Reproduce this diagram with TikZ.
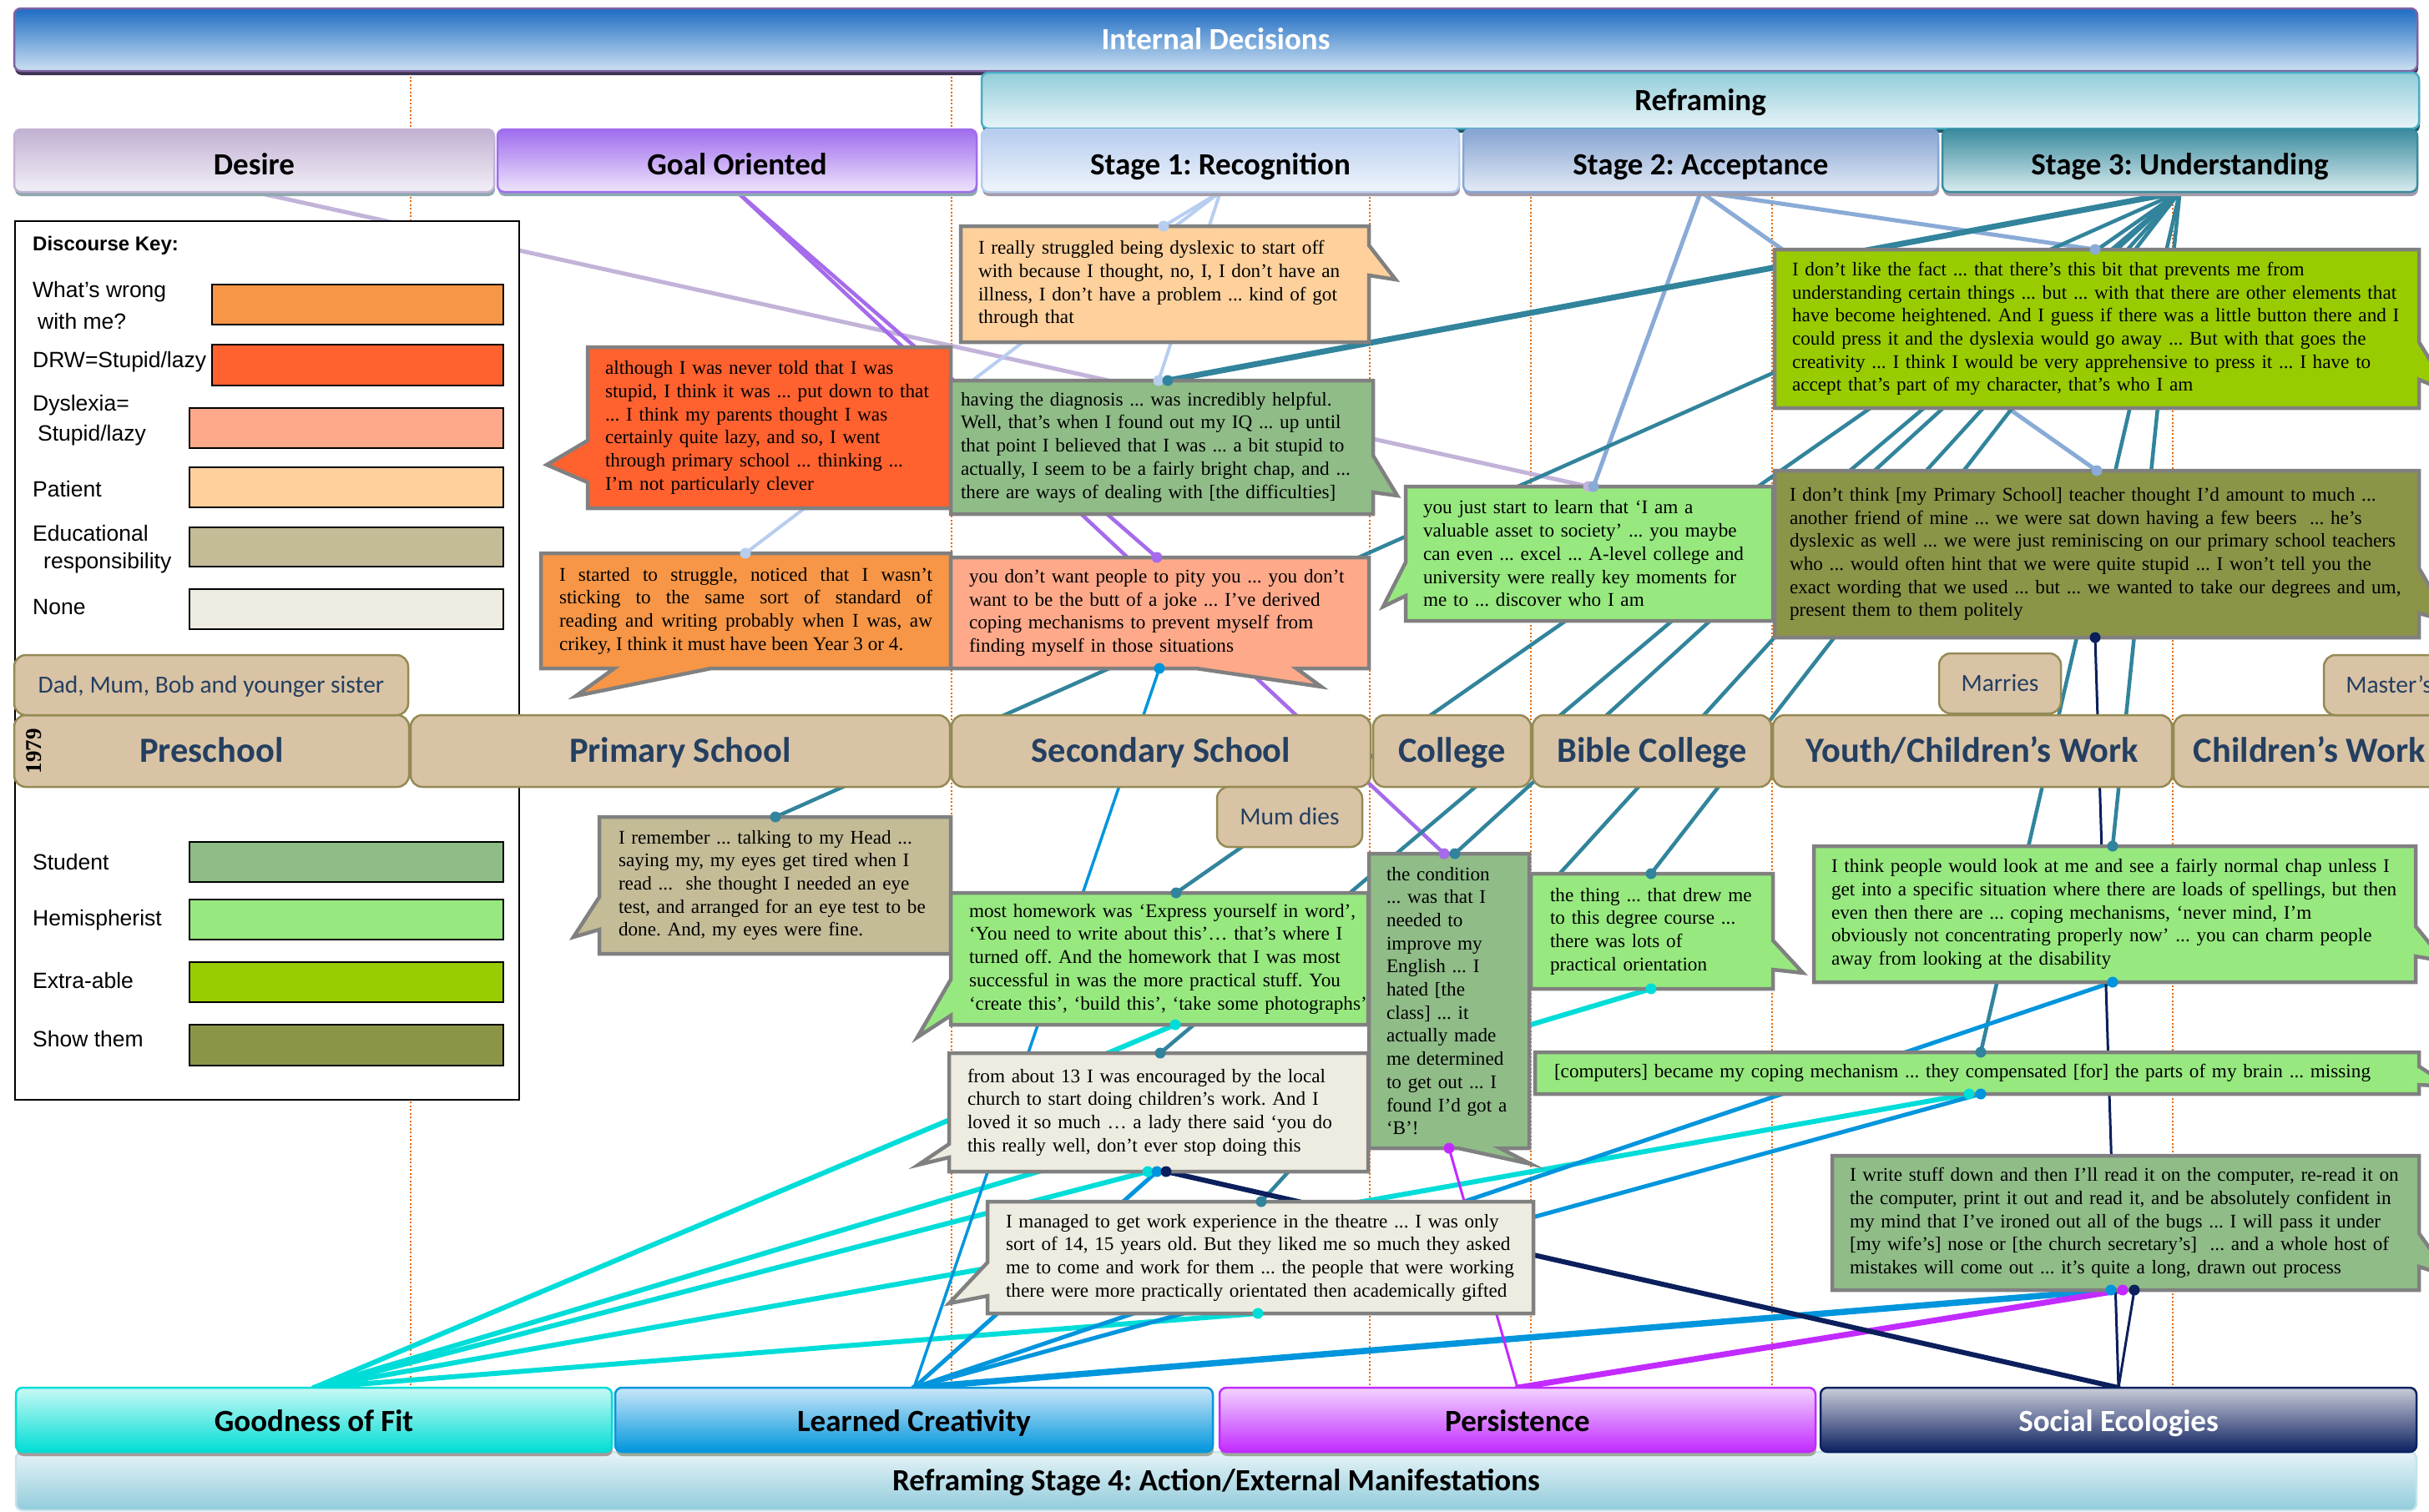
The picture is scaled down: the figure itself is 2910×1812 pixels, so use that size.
\documentclass[tikz,border=0pt]{standalone}
\usepackage{fontspec}
\usetikzlibrary{shadows}
\newfontfamily\headfont{Carlito}
\newfontfamily\quotefont{Liberation Serif}
\newfontfamily\keyfont{Liberation Sans}

% discourse colours
\definecolor{cWrong}{HTML}{F79646}
\definecolor{cDRW}{HTML}{FF612F}
\definecolor{cDys}{HTML}{FFA98B}
\definecolor{cPat}{HTML}{FDD09C}
\definecolor{cEdu}{HTML}{C4BC97}
\definecolor{cNone}{HTML}{EEECE1}
\definecolor{cStu}{HTML}{90BC88}
\definecolor{cHem}{HTML}{97E97F}
\definecolor{cExtra}{HTML}{99CC00}
\definecolor{cShow}{HTML}{8C9448}
\definecolor{cgrey}{HTML}{808080}
% timeline
\definecolor{tan}{HTML}{D9C3A5}
\definecolor{olive}{HTML}{948A54}
\definecolor{eratext}{HTML}{243F60}
\definecolor{gorange}{HTML}{E46C0A}
% connectors
\definecolor{wLav}{HTML}{C3B3D9}
\definecolor{wPur}{HTML}{A56BEB}
\definecolor{wSt1}{HTML}{B7CEEF}
\definecolor{wSt2}{HTML}{8AABD6}
\definecolor{wSt3}{HTML}{31849B}
\definecolor{wCyan}{HTML}{00DDD8}
\definecolor{wBlue}{HTML}{0095DC}
\definecolor{wMag}{HTML}{C22BFF}
\definecolor{wNavy}{HTML}{0B1F5C}
% banners
\definecolor{inTop}{HTML}{1D6CC3}
\definecolor{inBot}{HTML}{CCE0F1}
\definecolor{inEdge}{HTML}{7F63A3}
\definecolor{inSh}{HTML}{3E3253}
\definecolor{rfTop}{HTML}{92CDDA}
\definecolor{rfBot}{HTML}{E8F4F8}
\definecolor{rfEdge}{HTML}{4BACC6}
\definecolor{rfSh}{HTML}{215967}
\definecolor{deTop}{HTML}{C1B1D3}
\definecolor{deBot}{HTML}{F3F0F7}
\definecolor{deEdge}{HTML}{C3B3D5}
\definecolor{goTop}{HTML}{A06DEE}
\definecolor{goBot}{HTML}{EEE4FC}
\definecolor{s1Top}{HTML}{B6CCEE}
\definecolor{s1Bot}{HTML}{F0F5FC}
\definecolor{s1Edge}{HTML}{B8CEEF}
\definecolor{s2Top}{HTML}{84A4D2}
\definecolor{s2Bot}{HTML}{E4EBF5}
\definecolor{s2Edge}{HTML}{86A6D3}
\definecolor{s3Top}{HTML}{3A8B9E}
\definecolor{s3Bot}{HTML}{D9ECEF}
\definecolor{s4Top}{HTML}{E6F3F8}
\definecolor{s4Bot}{HTML}{91CCDB}
\definecolor{s4Edge}{HTML}{C9E3EC}
\definecolor{fiTop}{HTML}{C9F8F5}
\definecolor{fiBot}{HTML}{00DED5}
\definecolor{lcTop}{HTML}{CAE6F9}
\definecolor{lcBot}{HTML}{0096DC}
\definecolor{peTop}{HTML}{F3D3FF}
\definecolor{peBot}{HTML}{C12BFF}
\definecolor{soTop}{HTML}{C9CCD8}
\definecolor{soBot}{HTML}{0D2161}
\definecolor{shA}{HTML}{8EA9AF}
\definecolor{shB}{HTML}{A29CAA}
\definecolor{shC}{HTML}{A89A9A}
\definecolor{shD}{HTML}{9CAA9A}

\pgfdeclarelayer{guides}
\pgfdeclarelayer{wires}
\pgfsetlayers{guides,wires,main}

\begin{document}
\frenchspacing
\begin{tikzpicture}[x=1pt,y=-1pt,
  hdr/.style={rounded corners=8pt, line width=2.5pt, inner sep=0pt, outer sep=0pt,
    text height=23.4pt, text depth=0pt,
    font=\headfont\bfseries\fontsize{37}{44}\selectfont},
  lowtext/.style={text height=33pt},
  hsh/.style={drop shadow={shadow xshift=1pt, shadow yshift=-5pt, fill=#1, opacity=1}},
  era/.style={rounded corners=14pt, fill=tan, draw=olive, line width=2.5pt, inner sep=0pt,
    outer sep=0pt, text=eratext, text height=26pt, text depth=0pt,
    font=\headfont\bfseries\fontsize{42.5}{50}\selectfont},
  eratag/.style={era, text height=18.5pt, font=\headfont\fontsize{29.5}{34}\selectfont},
  cframe/.style={draw=cgrey, line width=4.5pt, line join=miter},
  ctext/.style={anchor=north west, inner ysep=4pt, outer sep=0pt, align=left,
    font=\quotefont\fontsize{23.2}{27.7}\selectfont},
  keylabel/.style={anchor=west, inner sep=0pt, font=\keyfont\fontsize{26.5}{30}\selectfont},
  swatch/.style={draw=black, line width=1.5pt},
  guide/.style={draw=gorange, line width=1.6pt, dash pattern=on 2pt off 2.5pt},
  wire/.style={line cap=round},
]
\useasboundingbox (0,0) rectangle (2910,1812);
\clip (0,0) rectangle (2910,1812);

% period separators
\begin{pgfonlayer}{guides}
  \foreach \x in {492,1140,1641,1834,2123,2603}
    \draw[guide] (\x,87) -- (\x,1663);
\end{pgfonlayer}

% ---------- discourse key ----------
\draw[fill=white, draw=black, line width=1.5pt] (18,265) rectangle (622,1318);
\node[keylabel, font=\keyfont\bfseries\fontsize{24}{28}\selectfont] (keytitle) at (39,294) {Discourse Key:};
\node[keylabel] (k1a) at (39,350) {What’s wrong};
\node[keylabel] (k1b) at (45,385) {with me?};
\node[keylabel] (k2) at (39,434) {DRW=Stupid/lazy};
\node[keylabel] (k3a) at (39,486) {Dyslexia=};
\node[keylabel] (k3b) at (45,522) {Stupid/lazy};
\node[keylabel] (k4) at (39,586) {Patient};
\node[keylabel] (k5a) at (39,639) {Educational};
\node[keylabel] (k5b) at (52,675) {responsibility};
\node[keylabel] (k6) at (39,728) {None};
\node[keylabel] (k7) at (39,1033) {Student};
\node[keylabel] (k8) at (39,1103) {Hemispherist};
\node[keylabel] (k9) at (39,1175) {Extra-able};
\node[keylabel] (k10) at (39,1245) {Show them};
\draw[swatch, fill=cWrong] (254,341) rectangle (603,389);
\draw[swatch, fill=cDRW] (254,413) rectangle (603,462);
\draw[swatch, fill=cDys] (227,489) rectangle (603,537);
\draw[swatch, fill=cPat] (227,560) rectangle (603,608);
\draw[swatch, fill=cEdu] (227,632) rectangle (603,679);
\draw[swatch, fill=cNone] (227,706) rectangle (603,754);
\draw[swatch, fill=cStu] (227,1009) rectangle (603,1057);
\draw[swatch, fill=cHem] (227,1078) rectangle (603,1126);
\draw[swatch, fill=cExtra] (227,1153) rectangle (603,1201);
\draw[swatch, fill=cShow] (227,1228) rectangle (603,1277);

% ---------- timeline ----------
\node[era, minimum width=473, minimum height=86] (pre) at (253.5,900) {Preschool};
\node[era, minimum width=646, minimum height=86] (prim) at (815,900) {Primary School};
\node[era, minimum width=502, minimum height=86] (sec) at (1391,900) {Secondary School};
\node[era, minimum width=189, minimum height=86] (col) at (1739.5,900) {College};
\node[era, minimum width=286, minimum height=86] (bib) at (1979,900) {Bible College};
\node[era, minimum width=478, minimum height=86] (youth) at (2363,900) {Youth/Children’s Work};
\node[era, minimum width=326, minimum height=86] (cw) at (2767,900) {Children’s Work};
\node[rotate=90, inner sep=0pt, font=\quotefont\bfseries\fontsize{27}{30}\selectfont] (yr) at (41,900) {1979};
\node[eratag, minimum width=472, minimum height=72] (fam) at (253,821) {Dad, Mum, Bob and younger sister};
\node[eratag, minimum width=146, minimum height=72] (marr) at (2396,819) {Marries};
\node[eratag, minimum width=156, minimum height=72] (mast) at (2862,821) {Master’s};
\node[eratag, minimum width=174, minimum height=72] (mum) at (1545,979) {Mum dies};

% ---------- quotations ----------
\filldraw[cframe, fill=cPat] (1151,271) -- (1640,271) -- (1640,294) -- (1672,335) -- (1640,330) -- (1640,410) -- (1151,410) -- cycle;
\node[ctext, inner xsep=21pt, text width=447pt, minimum height=139pt] (c1) at (1151,271)
 {\mbox{I really struggled being dyslexic to start off}\\\mbox{with because I thought, no, I, I don’t have an}\\\mbox{illness, I don’t have a problem ... kind of got}\\\mbox{through that}};

\filldraw[cframe, fill=cDRW] (704,416) -- (1139,416) -- (1139,609) -- (704,609) -- (704,578) -- (655,557) -- (704,528) -- cycle;
\node[ctext, inner xsep=21pt, text width=393pt, minimum height=193pt] (c2) at (704,416)
 {\mbox{although I was never told that I was}\\\mbox{stupid, I think it was ... put down to that}\\\mbox{... I think my parents thought I was}\\\mbox{certainly quite lazy, and so, I went}\\\mbox{through primary school ... thinking ...}\\\mbox{I’m not particularly clever}};

\filldraw[cframe, fill=cStu] (1139,456) -- (1645,456) -- (1645,546) -- (1674,594) -- (1645,590) -- (1645,616) -- (1139,616) -- cycle;
\node[ctext, inner xsep=12pt, text width=482pt, minimum height=160pt] (c3) at (1139,456)
 {\mbox{having the diagnosis ... was incredibly helpful.}\\\mbox{Well, that’s when I found out my IQ ... up until}\\\mbox{that point I believed that I was ... a bit stupid to}\\\mbox{actually, I seem to be a fairly bright chap, and ...}\\\mbox{there are ways of dealing with [the difficulties]}};

\filldraw[cframe, fill=cWrong] (648,663) -- (1139,663) -- (1139,801) -- (852,801) -- (690,834) -- (736,801) -- (648,801) -- cycle;
\node[ctext, inner xsep=22pt, text width=447pt, minimum height=138pt, align=justify] (c4) at (648,663)
 {I started to struggle, noticed that I wasn’t\linebreak sticking to the same sort of standard of\linebreak reading and writing probably when I was, aw\linebreak crikey, I think it must have been Year 3 or 4.};

\filldraw[cframe, fill=cDys] (1139,668) -- (1640,668) -- (1640,801) -- (1553,801) -- (1583,823) -- (1433,801) -- (1139,801) -- cycle;
\node[ctext, inner xsep=22pt, text width=457pt, minimum height=133pt] (c5) at (1139,668)
 {\mbox{you don’t want people to pity you ... you don’t}\\\mbox{want to be the butt of a joke ... I’ve derived}\\\mbox{coping mechanisms to prevent myself from}\\\mbox{finding myself in those situations}};

\filldraw[cframe, fill=cHem] (1684,583) -- (2124,583) -- (2124,744) -- (1684,744) -- (1684,714) -- (1657,727) -- (1684,674) -- cycle;
\node[ctext, inner xsep=21pt, text width=398pt, minimum height=161pt] (c6) at (1684,583)
 {\mbox{you just start to learn that ‘I am a}\\\mbox{valuable asset to society’ ... you maybe}\\\mbox{can even ... excel ... A-level college and}\\\mbox{university were really key moments for}\\\mbox{me to ... discover who I am}};

\filldraw[cframe, fill=cExtra] (2126,299) -- (2898,299) -- (2898,410) -- (2935,470) -- (2898,455) -- (2898,489) -- (2126,489) -- cycle;
\node[ctext, inner xsep=21pt, text width=730pt, minimum height=190pt] (c7) at (2126,299)
 {\mbox{I don’t like the fact ... that there’s this bit that prevents me from}\\\mbox{understanding certain things ... but ... with that there are other elements that}\\\mbox{have become heightened. And I guess if there was a little button there and I}\\\mbox{could press it and the dyslexia would go away ... But with that goes the}\\\mbox{creativity ... I think I would be very apprehensive to press it ... I have to}\\\mbox{accept that’s part of my character, that’s who I am}};

\filldraw[cframe, fill=cShow] (2126,564) -- (2898,564) -- (2898,681) -- (2935,745) -- (2898,735) -- (2898,764) -- (2126,764) -- cycle;
\node[ctext, inner xsep=18pt, text width=736pt, minimum height=200pt] (c8) at (2126,564)
 {\mbox{I don’t think [my Primary School] teacher thought I’d amount to much ...}\\\mbox{another friend of mine ... we were sat down having a few beers\ \ ... he’s}\\\mbox{dyslexic as well ... we were just reminiscing on our primary school teachers}\\\mbox{who ... would often hint that we were quite stupid ... I won’t tell you the}\\\mbox{exact wording that we used ... but ... we wanted to take our degrees and um,}\\\mbox{present them to them politely}};

\filldraw[cframe, fill=cEdu] (718,979) -- (1139,979) -- (1139,1143) -- (718,1143) -- (718,1114) -- (687,1123) -- (718,1075) -- cycle;
\node[ctext, inner xsep=23pt, text width=375pt, minimum height=164pt] (c9) at (718,979)
 {\mbox{I remember ... talking to my Head ...}\\\mbox{saying my, my eyes get tired when I}\\\mbox{read ...\ \ she thought I needed an eye}\\\mbox{test, and arranged for an eye test to be}\\\mbox{done. And, my eyes were fine.}};

\filldraw[cframe, fill=cHem] (1139,1070) -- (1639,1070) -- (1639,1228) -- (1139,1228) -- (1139,1217) -- (1099,1243) -- (1139,1174) -- cycle;
\node[ctext, inner xsep=22pt, text width=456pt, minimum height=158pt] (c10) at (1139,1070)
 {\mbox{most homework was ‘Express yourself in word’,}\\\mbox{‘You need to write about this’… that’s where I}\\\mbox{turned off. And the homework that I was most}\\\mbox{successful in was the more practical stuff. You}\\\mbox{‘create this’, ‘build this’, ‘take some photographs’}};

\filldraw[cframe, fill=cStu] (1640,1023) -- (1832,1023) -- (1832,1376) -- (1797,1376) -- (1834,1395) -- (1747,1376) -- (1640,1376) -- cycle;
\node[ctext, inner xsep=21pt, text width=150pt, minimum height=353pt] (c11) at (1640,1023)
 {\mbox{the condition}\\\mbox{... was that I}\\\mbox{needed to}\\\mbox{improve my}\\\mbox{English ... I}\\\mbox{hated [the}\\\mbox{class] ... it}\\\mbox{actually made}\\\mbox{me determined}\\\mbox{to get out ... I}\\\mbox{found I’d got a}\\\mbox{‘B’!}};

\filldraw[cframe, fill=cNone] (1137,1262) -- (1639,1262) -- (1639,1404) -- (1137,1404) -- (1137,1387) -- (1100,1396) -- (1137,1371) -- cycle;
\node[ctext, inner xsep=22pt, text width=458pt, minimum height=142pt] (c12) at (1137,1262)
 {\mbox{from about 13 I was encouraged by the local}\\\mbox{church to start doing children’s work. And I}\\\mbox{loved it so much … a lady there said ‘you do}\\\mbox{this really well, don’t ever stop doing this}};

\filldraw[cframe, fill=cNone] (1183,1440) -- (1837,1440) -- (1837,1574) -- (1183,1574) -- (1183,1553) -- (1137,1562) -- (1183,1513) -- cycle;
\node[ctext, inner xsep=22pt, text width=610pt, minimum height=134pt] (c13) at (1183,1440)
 {\mbox{I managed to get work experience in the theatre ... I was only}\\\mbox{sort of 14, 15 years old. But they liked me so much they asked}\\\mbox{me to come and work for them ... the people that were working}\\\mbox{there were more practically orientated then academically gifted}};

\filldraw[cframe, fill=cHem] (1834,1047) -- (2124,1047) -- (2124,1127) -- (2160,1166) -- (2124,1162) -- (2124,1185) -- (1834,1185) -- cycle;
\node[ctext, inner xsep=23pt, text width=244pt, minimum height=138pt] (c14) at (1834,1047)
 {\mbox{the thing ... that drew me}\\\mbox{to this degree course ...}\\\mbox{there was lots of}\\\mbox{practical orientation}};

\filldraw[cframe, fill=cHem] (2173,1014) -- (2894,1014) -- (2894,1110) -- (2928,1152) -- (2894,1146) -- (2894,1177) -- (2173,1177) -- cycle;
\node[ctext, inner xsep=21pt, text width=679pt, minimum height=163pt] (c15) at (2173,1014)
 {\mbox{I think people would look at me and see a fairly normal chap unless I}\\\mbox{get into a specific situation where there are loads of spellings, but then}\\\mbox{even then there are ... coping mechanisms, ‘never mind, I’m}\\\mbox{obviously not concentrating properly now’ ... you can charm people}\\\mbox{away from looking at the disability}};

\filldraw[cframe, fill=cHem] (1839,1261) -- (2898,1261) -- (2898,1278) -- (2935,1302) -- (2898,1300) -- (2898,1311) -- (1839,1311) -- cycle;
\node[ctext, inner xsep=23pt, text width=1013pt, minimum height=50pt] (c16) at (1839,1261)
 {\mbox{[computers] became my coping mechanism ... they compensated [for] the parts of my brain ... missing}};

\filldraw[cframe, fill=cStu] (2195,1385) -- (2898,1385) -- (2898,1478) -- (2935,1530) -- (2898,1518) -- (2898,1546) -- (2195,1546) -- cycle;
\node[ctext, inner xsep=21pt, text width=661pt, minimum height=161pt] (c17) at (2195,1385)
 {\mbox{I write stuff down and then I’ll read it on the computer, re-read it on}\\\mbox{the computer, print it out and read it, and be absolutely confident in}\\\mbox{my mind that I’ve ironed out all of the bugs ... I will pass it under}\\\mbox{[my wife’s] nose or [the church secretary’s]\ \ ... and a whole host of}\\\mbox{mistakes will come out ... it’s quite a long, drawn out process}};

% ---------- top banners ----------
\node[hdr, top color=inTop, bottom color=inBot, draw=inEdge, hsh=inSh, text=white,
  minimum width=2879, minimum height=75] (intdec) at (1456.5,47.5) {Internal Decisions};
\node[hdr, top color=rfTop, bottom color=rfBot, draw=rfEdge, hsh=rfSh,
  minimum width=1722, minimum height=67] (refr) at (2037,120.5) {Reframing};
\node[hdr, lowtext, top color=deTop, bottom color=deBot, draw=deEdge, hsh=shA,
  minimum width=575, minimum height=75] (desire) at (304.5,192.5) {Desire};
\node[hdr, lowtext, top color=goTop, bottom color=goBot, draw=goTop, hsh=shA,
  minimum width=574, minimum height=75] (goal) at (883,192.5) {Goal Oriented};
\node[hdr, lowtext, top color=s1Top, bottom color=s1Bot, draw=s1Edge, hsh=shB,
  minimum width=572, minimum height=75] (st1) at (1462,192.5) {Stage 1: Recognition};
\node[hdr, lowtext, top color=s2Top, bottom color=s2Bot, draw=s2Edge, hsh=shB,
  minimum width=569, minimum height=75] (st2) at (2037.5,192.5) {Stage 2: Acceptance};
\node[hdr, lowtext, top color=s3Top, bottom color=s3Bot, draw=s3Top, hsh=shB,
  minimum width=569, minimum height=75] (st3) at (2611.5,192.5) {Stage 3: Understanding};

% ---------- bottom banners ----------
\node[hdr, top color=s4Top, bottom color=s4Bot, draw=s4Edge,
  minimum width=2876, minimum height=70] (st4) at (1457,1775) {Reframing Stage 4: Action/External Manifestations};
\node[hdr, text height=28pt, top color=fiTop, bottom color=fiBot, draw=fiBot, hsh=shC,
  minimum width=714, minimum height=77] (fit) at (376,1701.5) {Goodness of Fit};
\node[hdr, text height=28pt, top color=lcTop, bottom color=lcBot, draw=lcBot, hsh=shD,
  minimum width=716, minimum height=77] (lc) at (1095,1701.5) {Learned Creativity};
\node[hdr, text height=28pt, top color=peTop, bottom color=peBot, draw=peBot, hsh=shD,
  minimum width=714, minimum height=77] (pers) at (1818,1701.5) {Persistence};
\node[hdr, text height=28pt, top color=soTop, bottom color=soBot, draw=soBot, text=white,
  minimum width=714, minimum height=77] (soc) at (2538,1701.5) {Social Ecologies};

% ---------- connector ends on the quotations ----------
\coordinate (c1t) at ([xshift=243pt]c1.north west);
\coordinate (c3a) at ([xshift=249pt]c3.north west);
\coordinate (c3b) at ([xshift=260pt]c3.north west);
\coordinate (c4t) at ([xshift=245pt]c4.north west);
\coordinate (c5t) at ([xshift=247pt]c5.north west);
\coordinate (c5b) at ([xshift=250pt]c5.south west);
\coordinate (c6a) at ([xshift=219pt]c6.north west);
\coordinate (c6b) at ([xshift=225pt]c6.north west);
\coordinate (c7t) at ([xshift=384pt]c7.north west);
\coordinate (c8t) at ([xshift=386pt]c8.north west);
\coordinate (c8b) at ([xshift=384pt]c8.south west);
\coordinate (c9t) at ([xshift=211pt]c9.north west);
\coordinate (c10t) at ([xshift=270pt]c10.north west);
\coordinate (c10b) at ([xshift=269pt]c10.south west);
\coordinate (c11a) at ([xshift=90pt]c11.north west);
\coordinate (c11b) at ([xshift=103pt]c11.north west);
\coordinate (c11c) at ([xshift=96pt]c11.south west);
\coordinate (c12t) at ([xshift=253pt]c12.north west);
\coordinate (c12a) at ([xshift=238pt]c12.south west);
\coordinate (c12b) at ([xshift=249pt]c12.south west);
\coordinate (c12c) at ([xshift=260pt]c12.south west);
\coordinate (c13t) at ([xshift=328pt]c13.north west);
\coordinate (c13b) at ([xshift=324pt]c13.south west);
\coordinate (c14t) at ([xshift=144pt]c14.north west);
\coordinate (c14b) at ([xshift=144pt]c14.south west);
\coordinate (c15t) at ([xshift=358pt]c15.north west);
\coordinate (c15b) at ([xshift=358pt]c15.south west);
\coordinate (c16t) at ([xshift=534pt]c16.north west);
\coordinate (c16a) at ([xshift=520pt]c16.south west);
\coordinate (c16b) at ([xshift=534pt]c16.south west);
\coordinate (c17a) at ([xshift=334pt]c17.south west);
\coordinate (c17b) at ([xshift=348pt]c17.south west);
\coordinate (c17c) at ([xshift=362pt]c17.south west);

\def\wirelist{desire.south/c6a/wLav/5, goal.south/c5t/wPur/4.5, goal.south/c11a/wPur/4.5,
  st1.south/c1t/wSt1/4, st1.south/c3a/wSt1/4, st1.south/c4t/wSt1/4,
  st2.south/c6b/wSt2/5, st2.south/c7t/wSt2/5, st2.south/c8t/wSt2/5,
  st3.south/c3b/wSt3/7, st3.south/c9t/wSt3/4.5, st3.south/c10t/wSt3/4.5, st3.south/c11b/wSt3/4.5,
  st3.south/c12t/wSt3/4.5, st3.south/c13t/wSt3/4.5, st3.south/c14t/wSt3/4.5,
  st3.south/c15t/wSt3/4.5, st3.south/c16t/wSt3/4.5,
  fit.north/c10b/wCyan/6, fit.north/c12a/wCyan/6, fit.north/c13b/wCyan/6,
  fit.north/c14b/wCyan/6, fit.north/c16a/wCyan/6,
  lc.north/c5b/wBlue/3.5, lc.north/c12b/wBlue/5, lc.north/c15b/wBlue/5,
  lc.north/c16b/wBlue/5, lc.north/c17a/wBlue/7.5,
  pers.north/c11c/wMag/3, pers.north/c17b/wMag/7,
  soc.north/c12c/wNavy/6, soc.north/c8b/wNavy/3, soc.north/c17c/wNavy/3}

\begin{pgfonlayer}{wires}
  \foreach \a/\b/\c/\w in \wirelist
    \draw[wire, draw=\c, line width=\w pt] (\a) -- (\b);
\end{pgfonlayer}
\foreach \a/\b/\c/\w in \wirelist
  \fill[\c] (\b) circle[radius=6.5pt];
\end{tikzpicture}
\end{document}
